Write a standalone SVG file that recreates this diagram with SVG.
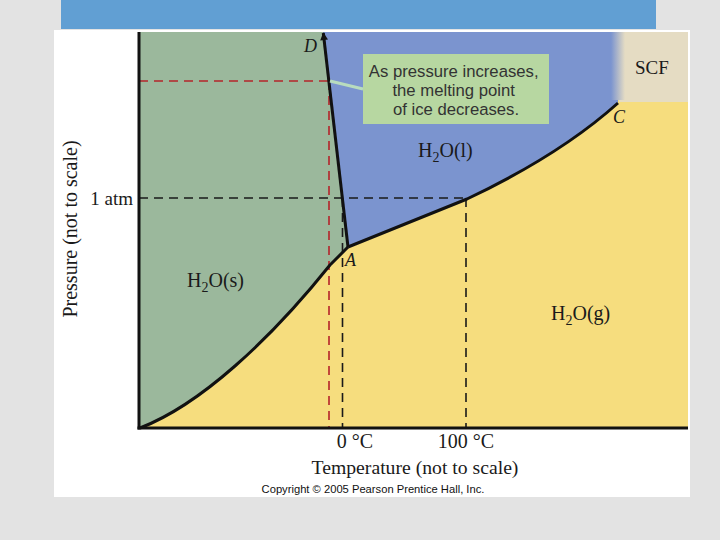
<svg xmlns="http://www.w3.org/2000/svg" width="720" height="540" viewBox="0 0 720 540">
  <defs>
    <style>
      .serif { font-family: "Liberation Serif", "Times New Roman", serif; fill: #1a1a1a; }
      .ital { font-style: italic; }
      .sans { font-family: "Liberation Sans", Arial, sans-serif; }
      .curve { fill: none; stroke: #111; stroke-width: 3; stroke-linejoin: round; }
      .dashred { fill: none; stroke: #b5242a; stroke-width: 1.6; stroke-dasharray: 9 6; }
      .dashblk { fill: none; stroke: #1a1a1a; stroke-width: 1.6; stroke-dasharray: 9 6; }
    </style>
    <marker id="arrow" viewBox="0 0 10 10" refX="9" refY="5" markerWidth="3.4" markerHeight="2.6" orient="auto" markerUnits="strokeWidth">
      <path d="M0,0 L10,5 L0,10 Z" fill="#111"/>
    </marker>
    <linearGradient id="scfFade" x1="0" y1="0" x2="1" y2="0">
      <stop offset="0" stop-color="#7b94cf"/>
      <stop offset="1" stop-color="#e5dcc3"/>
    </linearGradient>
  </defs>

  <!-- page background -->
  <rect x="0" y="0" width="720" height="540" fill="#e3e3e3"/>
  <rect x="61" y="0" width="595" height="29" fill="#619fd3"/>
  <rect x="54" y="30" width="636" height="467" fill="#ffffff"/>

  <!-- phase regions -->
  <g id="regions">
    <rect id="gas-region" x="139" y="32" width="549" height="396" fill="#f6dd7e"/>
    <path id="solid-region" d="M139,32 L323,32 L348,247 L330,265 C270,340 200,405 140,428 L139,428 Z" fill="#9bb89c"/>
    <path id="liquid-region" d="M323,32 L619,32 L618,103 Q560,155 467,199 L348,247 Z" fill="#7b94cf"/>
    <rect id="scf-region" x="619" y="32" width="69" height="70" fill="#e5dcc3"/>
    <rect x="611" y="32" width="14" height="68" fill="url(#scfFade)"/>
  </g>

  <!-- connectors: dashed guides and phase boundaries -->
  <g id="connectors">
    <path class="dashred" d="M139,81 L329,81 M329,81 L329,428"/>
    <path class="dashblk" d="M139,198 L470,198 M342.5,198 L342.5,428 M466,198 L466,428"/>
    <path class="curve" d="M348,247 L323.3,33" marker-end="url(#arrow)"/>
    <path class="curve" d="M140,428 C200,405 270,340 330,265 L348,247"/>
    <path class="curve" d="M348,247 L467,199 Q560,155 618,103"/>
    <line x1="330" y1="81" x2="363" y2="89" stroke="#b8dcbe" stroke-width="3"/>
  </g>

  <!-- axes -->
  <g id="axes">
    <line x1="139" y1="32" x2="139" y2="429.5" stroke="#111" stroke-width="3"/>
    <line x1="137.5" y1="428" x2="688" y2="428" stroke="#111" stroke-width="3"/>
  </g>

  <!-- callout -->
  <g id="callout">
    <rect x="363" y="54" width="186" height="70" fill="#b7d7a1"/>
    <text class="sans" font-size="16.7" fill="#333" text-anchor="middle">
      <tspan x="456" y="77">As pressure increases,</tspan>
      <tspan x="456" y="96">the melting point</tspan>
      <tspan x="456" y="115">of ice decreases.</tspan>
    </text>
  </g>

  <!-- labels -->
  <g id="labels">
    <text class="serif ital" x="304" y="52" font-size="18">D</text>
    <text class="serif ital" x="613" y="123" font-size="18">C</text>
    <text class="serif ital" x="345" y="266" font-size="18">A</text>
    <text class="serif" x="635" y="74" font-size="19">SCF</text>
    <text class="serif" x="418" y="157" font-size="20">H<tspan font-size="14" dy="5">2</tspan><tspan dy="-5">O(l)</tspan></text>
    <text class="serif" x="187" y="287" font-size="20">H<tspan font-size="14" dy="5">2</tspan><tspan dy="-5">O(s)</tspan></text>
    <text class="serif" x="551" y="320" font-size="20">H<tspan font-size="14" dy="5">2</tspan><tspan dy="-5">O(g)</tspan></text>
    <text class="serif" x="133" y="205" font-size="19" text-anchor="end">1 atm</text>
    <text class="serif" x="355" y="448" font-size="20" text-anchor="middle">0 °C</text>
    <text class="serif" x="466" y="448" font-size="20" text-anchor="middle">100 °C</text>
    <text class="serif" x="415" y="474" font-size="19.7" text-anchor="middle">Temperature (not to scale)</text>
    <text class="serif" transform="translate(77,229) rotate(-90)" font-size="20" text-anchor="middle">Pressure (not to scale)</text>
    <text class="sans" x="373" y="493" font-size="11.2" fill="#111" text-anchor="middle">Copyright © 2005 Pearson Prentice Hall, Inc.</text>
  </g>
</svg>
